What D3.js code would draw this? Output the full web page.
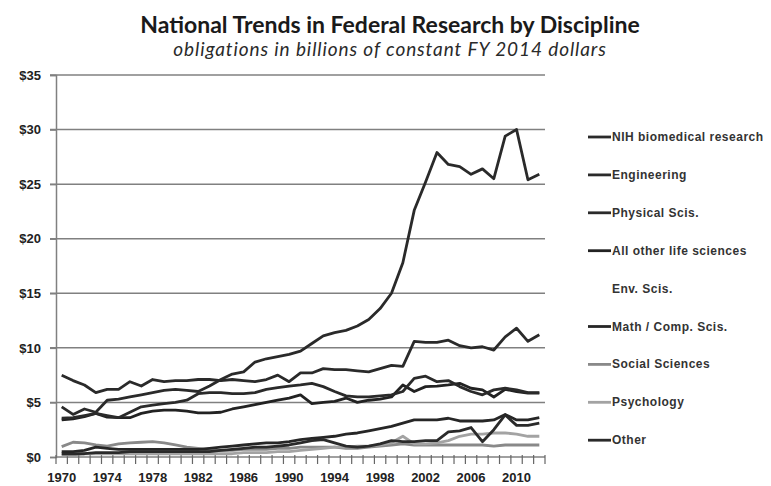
<!DOCTYPE html>
<html>
<head>
<meta charset="utf-8">
<script src="https://cdn.jsdelivr.net/npm/d3@7"></script>
<style>
  body { margin: 0; background: #fff; }
</style>
</head>
<body>
<div id="chart"></div>
<script>
const width = 771;
const height = 486;
const margin = { top: 75, left: 56, bottom: 29, right: 226 };
const iwidth = width - margin.left - margin.right;
const iheight = height - margin.top - margin.bottom;

// categories
const years = [
  1970, 1971, 1972, 1973, 1974, 1975, 1976, 1977, 1978, 1979,
  1980, 1981, 1982, 1983, 1984, 1985, 1986, 1987, 1988, 1989,
  1990, 1991, 1992, 1993, 1994, 1995, 1996, 1997, 1998, 1999,
  2000, 2001, 2002, 2003, 2004, 2005, 2006, 2007, 2008, 2009,
  2010, 2011, 2012
];
const yearLabels = [1970, 1974, 1978, 1982, 1986, 1990, 1994, 1998, 2002, 2006, 2010];
const yTicks = [0, 5, 10, 15, 20, 25, 30, 35];

// series (billions, constant FY 2014 dollars)
const nih = [
  4.6, 3.9, 4.4, 4.1, 5.2, 5.3, 5.5, 5.7, 5.9, 6.1,
  6.2, 6.1, 6.0, 6.5, 7.1, 7.6, 7.8, 8.7, 9.0, 9.2,
  9.4, 9.7, 10.4, 11.1, 11.4, 11.6, 12.0, 12.6, 13.6, 15.0,
  17.8, 22.6, 25.2, 27.9, 26.8, 26.6, 25.9, 26.4, 25.5, 29.4,
  30.0, 25.4, 25.9
];
const engineering = [
  7.5, 7.0, 6.6, 5.9, 6.2, 6.2, 6.9, 6.5, 7.1, 6.9,
  7.0, 7.0, 7.1, 7.1, 7.0, 7.1, 7.0, 6.9, 7.1, 7.5,
  6.9, 7.7, 7.7, 8.1, 8.0, 8.0, 7.9, 7.8, 8.1, 8.4,
  8.3, 10.6, 10.5, 10.5, 10.7, 10.2, 10.0, 10.1, 9.8, 11.0,
  11.8, 10.6, 11.2
];
const physical = [
  3.55, 3.6, 3.8, 4.0, 3.8, 3.6, 4.1, 4.6, 4.75, 4.9,
  5.0, 5.2, 5.8, 5.9, 5.9, 5.8, 5.8, 5.9, 6.2, 6.35,
  6.5, 6.6, 6.75, 6.45, 6.0, 5.6, 5.5, 5.5, 5.6, 5.7,
  6.0, 7.2, 7.4, 6.9, 7.0, 6.45, 6.0, 5.7, 6.15, 6.3,
  6.15, 5.9, 5.9
];
const lifeOther = [
  3.4, 3.5, 3.7, 4.0, 3.65, 3.6, 3.6, 4.0, 4.2, 4.3,
  4.3, 4.2, 4.05, 4.05, 4.1, 4.4, 4.6, 4.8, 5.0, 5.2,
  5.4, 5.7, 4.9, 5.0, 5.1, 5.4, 5.0, 5.2, 5.3, 5.5,
  6.6, 6.0, 6.45, 6.5, 6.6, 6.75, 6.3, 6.15, 5.5, 6.2,
  6.0, 5.85, 5.85
];
const mathComp = [
  0.5, 0.5, 0.6, 0.9, 0.8, 0.7, 0.7, 0.7, 0.7, 0.7,
  0.7, 0.7, 0.7, 0.8, 0.9, 1.0, 1.1, 1.2, 1.3, 1.3,
  1.4, 1.6, 1.7, 1.8, 1.9, 2.1, 2.2, 2.4, 2.6, 2.8,
  3.1, 3.4, 3.4, 3.4, 3.55, 3.3, 3.3, 3.3, 3.4, 3.9,
  3.4, 3.4, 3.6
];
const socialSci = [
  0.95, 1.35, 1.3, 1.1, 1.0, 1.2, 1.3, 1.35, 1.4, 1.3,
  1.1, 0.9, 0.8, 0.6, 0.6, 0.6, 0.7, 0.7, 0.7, 0.8,
  0.8, 0.9, 0.9, 0.9, 0.9, 0.8, 0.8, 0.9, 1.0, 1.1,
  1.2, 1.1, 1.1, 1.1, 1.1, 1.1, 1.1, 1.1, 1.0, 1.1,
  1.1, 1.1, 1.1
];
const psychology = [
  0.2, 0.2, 0.3, 0.3, 0.3, 0.3, 0.3, 0.3, 0.3, 0.3,
  0.3, 0.3, 0.3, 0.3, 0.3, 0.3, 0.4, 0.4, 0.4, 0.5,
  0.5, 0.6, 0.7, 0.8, 0.9, 0.9, 1.0, 1.0, 1.1, 1.3,
  1.9, 1.2, 1.2, 1.3, 1.5, 1.9, 2.1, 2.1, 2.2, 2.2,
  2.1, 1.9, 1.9
];
const other = [
  0.3, 0.3, 0.3, 0.4, 0.4, 0.4, 0.5, 0.5, 0.5, 0.5,
  0.5, 0.5, 0.5, 0.5, 0.6, 0.7, 0.8, 0.9, 0.9, 1.0,
  1.1, 1.3, 1.5, 1.6, 1.3, 1.0, 0.9, 1.0, 1.2, 1.5,
  1.4, 1.4, 1.5, 1.5, 2.3, 2.4, 2.7, 1.4, 2.5, 3.85,
  2.9, 2.9, 3.1
];

const names = [
  "NIH biomedical research", "Engineering", "Physical Scis.",
  "All other life sciences", "Env. Scis.", "Math / Comp. Scis.",
  "Social Sciences", "Psychology", "Other"
];
// Env. Scis. has no visible line in the original
const seriesValues = [nih, engineering, physical, lifeOther, null, mathComp, socialSci, psychology, other];
const colors = ["#2a2a2a", "#2a2a2a", "#2a2a2a", "#222", null, "#262626", "#898989", "#a3a3a3", "#2a2a2a"];

const svg = d3.select("#chart").append("svg")
  .attr("width", width)
  .attr("height", height);

svg.append("text")
  .attr("x", 390).attr("y", 33)
  .attr("text-anchor", "middle")
  .style("font-family", "Lato, 'Open Sans', sans-serif")
  .style("font-weight", "bold")
  .style("font-size", "23px")
  .style("fill", "#1a1a1a")
  .text("National Trends in Federal Research by Discipline");

svg.append("text")
  .attr("x", 390).attr("y", 56)
  .attr("text-anchor", "middle")
  .style("font-family", "Lato, 'Open Sans', sans-serif")
  .style("font-style", "italic")
  .style("font-size", "19px")
  .style("letter-spacing", "0.9px")
  .style("fill", "#2a2a2a")
  .text("obligations in billions of constant FY 2014 dollars");

const g = svg.append("g")
  .attr("transform", `translate(${margin.left},${margin.top})`);

const x = d3.scaleBand().domain(years).range([0, iwidth]);
const y = d3.scaleLinear().domain([0, 35]).range([iheight, 0]);

// gridlines
g.append("g")
  .selectAll("line")
  .data(yTicks.filter((d) => d > 0))
  .enter()
  .append("line")
  .attr("x1", -6)
  .attr("x2", iwidth)
  .attr("y1", (d) => y(d))
  .attr("y2", (d) => y(d))
  .style("stroke", "#808080")
  .style("stroke-width", 1.5);

const yAxis = g.append("g")
  .call(d3.axisLeft(y).tickValues(yTicks).tickSize(6).tickFormat((d) => "$" + d));
yAxis.select(".domain").style("stroke", "#808080").style("stroke-width", 1.5);
yAxis.selectAll(".tick line").style("stroke", "#808080").style("stroke-width", 1.5);
yAxis.selectAll("text")
  .attr("x", -15)
  .style("font-family", "'Liberation Sans', Arial, sans-serif")
  .style("font-weight", "bold")
  .style("font-size", "13px")
  .style("fill", "#222");

// x axis: ticks between categories
const xAxis = g.append("g").attr("transform", `translate(0,${iheight})`);
xAxis.append("line")
  .attr("x1", 0).attr("x2", iwidth)
  .style("stroke", "#808080").style("stroke-width", 1.5);
xAxis.selectAll(".xt")
  .data(years.concat([null]))
  .enter()
  .append("line")
  .attr("class", "xt")
  .attr("x1", (d, i) => i * x.step())
  .attr("x2", (d, i) => i * x.step())
  .attr("y1", -2).attr("y2", 7)
  .style("stroke", "#666").style("stroke-width", 1.2);
xAxis.selectAll("text")
  .data(yearLabels)
  .enter()
  .append("text")
  .attr("x", (d) => x(d) + x.bandwidth() / 2)
  .attr("y", 25)
  .attr("text-anchor", "middle")
  .style("font-family", "'Liberation Sans', Arial, sans-serif")
  .style("font-weight", "bold")
  .style("font-size", "13px")
  .style("fill", "#222")
  .text((d) => d);

const line = d3.line()
  .x((d, i) => x(years[i]) + x.bandwidth() / 2)
  .y((d) => y(d));

// draw light lines first, dark on top
const order = [6, 7, 8, 5, 3, 2, 1, 0];
order.forEach((k) => {
  g.append("path")
    .datum(seriesValues[k])
    .attr("d", line)
    .style("fill", "none")
    .style("stroke", colors[k])
    .style("stroke-width", 2.8)
    .style("stroke-linejoin", "round");
});

// legend
const legend = svg.append("g").attr("transform", "translate(588,137)");
const rows = legend.selectAll("g")
  .data(names)
  .enter()
  .append("g")
  .attr("transform", (d, i) => `translate(0,${i * 37.9})`);
rows.filter((d, i) => colors[i] !== null)
  .append("line")
  .attr("x1", 0).attr("x2", 23)
  .style("stroke", (d) => colors[names.indexOf(d)])
  .style("stroke-width", 2.8);
rows.append("text")
  .attr("x", 24)
  .attr("y", 4)
  .style("font-family", "'Liberation Sans', Arial, sans-serif")
  .style("font-weight", "bold")
  .style("font-size", "12px")
  .style("letter-spacing", "0.5px")
  .style("fill", "#333")
  .text((d) => d);
</script>
</body>
</html>
